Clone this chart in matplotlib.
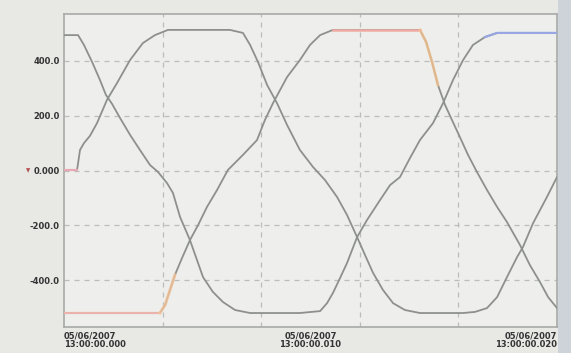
import matplotlib
matplotlib.use('Agg')
import matplotlib.pyplot as plt
from matplotlib.patches import Rectangle

# three phase recordings, time in ms, value in V
t_a = [0.00, 0.57, 0.81, 1.14, 1.46, 1.70, 1.95, 2.27, 2.68, 3.08, 3.49, 3.81,
       4.18, 4.42, 4.71, 5.11, 5.64, 6.04, 6.45, 6.94, 7.55, 9.57, 10.39, 10.67,
       10.91, 11.20, 11.48, 11.89, 12.29, 12.82, 13.23, 13.63, 14.04, 14.44,
       14.97, 15.38, 15.78, 16.19, 16.59, 17.08, 17.57, 20.00]
v_a = [494, 494, 458, 396, 330, 276, 243, 192, 130, 75, 20, -5,
       -46, -82, -170, -254, -389, -443, -480, -509, -520, -520, -513, -484,
       -447, -392, -338, -243, -181, -108, -53, -24, 46, 111,
       173, 246, 330, 403, 458, 487, 502, 502]

t_b = [0.00, 0.53, 0.65, 0.81, 1.05, 1.34, 1.74, 2.15, 2.68, 3.20, 3.69, 4.22,
       6.73, 7.26, 7.55, 7.87, 8.24, 8.64, 9.05, 9.57, 10.10, 10.59, 11.08,
       11.48, 11.89, 12.21, 12.54, 12.94, 13.35, 13.83, 14.44, 16.19, 16.67,
       17.16, 17.57, 17.97, 18.38, 18.62, 19.03, 19.59, 20.00]
v_b = [2, 2, 75, 100, 126, 173, 257, 319, 403, 465, 494, 513,
       513, 502, 458, 396, 312, 246, 166, 75, 13, -35, -97,
       -162, -243, -308, -374, -436, -484, -509, -520, -520, -516,
       -502, -462, -389, -316, -279, -192, -97, -24]

t_c = [0.00, 3.89, 4.10, 4.30, 4.50, 4.79, 5.11, 5.44, 5.80, 6.21, 6.65, 7.26,
       7.83, 8.15, 8.48, 9.05, 9.57, 9.98, 10.39, 10.91, 14.44, 14.69, 14.93,
       15.17, 15.46, 15.74, 16.06, 16.39, 16.75, 17.16, 17.57, 17.97, 18.50,
       18.90, 19.31, 19.64, 20.00]
v_c = [-520, -520, -491, -436, -381, -319, -254, -199, -133, -71, 2, 57,
       111, 184, 246, 341, 403, 458, 494, 513, 513, 469, 396,
       312, 239, 184, 122, 57, -5, -71, -133, -188, -272,
       -345, -407, -462, -502]

y_ticks = [400, 200, 0, -200, -400]
y_labels = ['400.0', '200.0', '0.000', '-200.0', '-400.0']
x_ticks = [0, 10, 20]
x_labels = ['05/06/2007\n13:00:00.000', '05/06/2007\n13:00:00.010',
            '05/06/2007\n13:00:00.020']

fig = plt.figure(figsize=(5.71, 3.53), dpi=100, facecolor='#e8e8e5')
ax = fig.add_axes([64/571, 1 - 327/353, 493/571, 313/353])
ax.set_facecolor('#eeefec')

# bluish strip on the right edge of the screen
fig.patches.append(Rectangle((558/571, 0), 13/571, 1, transform=fig.transFigure,
                             facecolor='#cdd3d8', edgecolor='none', zorder=0))

gray = '#8e908e'
ax.plot(t_a, v_a, color=gray, lw=1.3, zorder=3)
ax.plot(t_b, v_b, color=gray, lw=1.3, zorder=3)
ax.plot(t_c, v_c, color=gray, lw=1.3, zorder=3)

# coloured channel segments on top of the gray traces
ax.plot(t_b[:2], v_b[:2], color='#e9a9b4', lw=1.6, zorder=4)
ax.plot(t_c[:2], v_c[:2], color='#eab4ac', lw=1.6, zorder=4)
ax.plot(t_c[1:5], v_c[1:5], color='#f4c49a', lw=2.2, alpha=0.8, zorder=4)
ax.plot(t_c[19:21], v_c[19:21], color='#efaaa4', lw=1.8, zorder=4)
ax.plot(t_c[20:24], v_c[20:24], color='#f2c08e', lw=2.0, alpha=0.8, zorder=4)
ax.plot(t_a[-3:], v_a[-3:], color='#98a6e2', lw=1.6, zorder=4)

ax.set_xlim(0, 20)
ax.set_ylim(-571, 571)

ax.set_yticks(y_ticks)
ax.set_yticklabels(y_labels, fontsize=6, fontweight='bold', color='#333333')
ax.set_xticks(x_ticks)
ax.set_xticklabels(x_labels, fontsize=6, fontweight='bold', color='#333333',
                   linespacing=1.0)
for lab, ha in zip(ax.get_xticklabels(), ['left', 'center', 'right']):
    lab.set_horizontalalignment(ha)
ax.tick_params(axis='both', which='both', length=0)
ax.tick_params(axis='y', pad=3)
ax.tick_params(axis='x', pad=3)

# dashed grid
for yv in y_ticks:
    ax.axhline(yv, color='#bbbdba', lw=0.9, ls=(0, (4, 4)), zorder=1)
for xv in [4, 8, 12, 16]:
    ax.axvline(xv, color='#bbbdba', lw=0.9, ls=(0, (4, 4)), zorder=1)

for s in ax.spines.values():
    s.set_color('#a8aaa8')
    s.set_linewidth(1.2)

# zero reference marker
ax.text(-0.068, 0, '\u25bc', transform=ax.get_yaxis_transform(), fontsize=4,
        color='#b05050', ha='right', va='center')

plt.savefig('out.png', dpi=100, facecolor=fig.get_facecolor())
